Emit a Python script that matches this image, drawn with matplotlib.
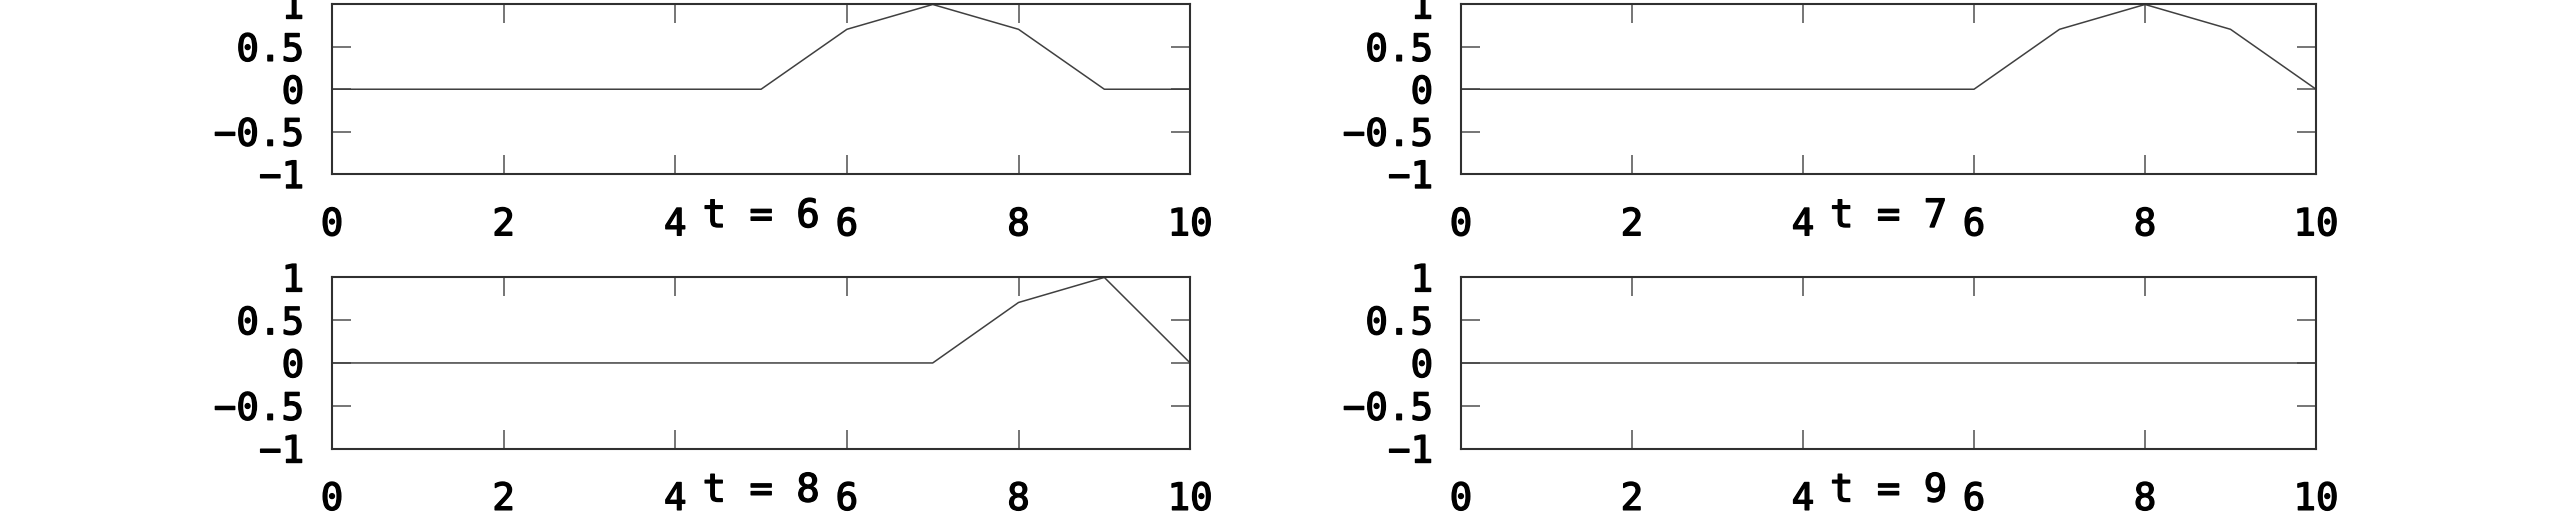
import numpy as np
import matplotlib
matplotlib.use('Agg')
import matplotlib.pyplot as plt
import matplotlib.patheffects as pe

# sample positions and the pulse at each time step
x = [0, 1, 2, 3, 4, 5, 6, 7, 8, 9, 10]
u_t6 = [0, 0, 0, 0, 0, 0, 0.707, 1, 0.707, 0, 0]
u_t7 = [0, 0, 0, 0, 0, 0, 0, 0.707, 1, 0.707, 0]
u_t8 = [0, 0, 0, 0, 0, 0, 0, 0, 0.707, 1, 0]
u_t9 = [0, 0, 0, 0, 0, 0, 0, 0, 0, 0, 0]
titles = ['t = 6', 't = 7', 't = 8', 't = 9']
xticks = [0, 2, 4, 6, 8, 10]
yticks = [-1, -0.5, 0, 0.5, 1]
ytick_labels = ['\u22121', '\u22120.5', '0', '0.5', '1']

plt.rcParams['font.family'] = ['DejaVu Sans Mono']

fig = plt.figure(figsize=(25.6, 5.2), dpi=100)

#axes boxes in figure fractions (left, bottom, width, height)
boxes = [
    [0.1297, 0.6654, 0.3352, 0.3260],
    [0.5707, 0.6654, 0.3340, 0.3260],
    [0.1297, 0.1375, 0.3352, 0.3290],
    [0.5707, 0.1375, 0.3340, 0.3290],
]
series = [u_t6, u_t7, u_t8, u_t9]
thicken = [pe.withStroke(linewidth=1.0, foreground='black')]

for box, u, title in zip(boxes, series, titles):
    ax = fig.add_axes(box)
    ax.plot(x, u, color='#404040', linewidth=1.1)
    ax.set_xlim(0, 10)
    ax.set_ylim(-1, 1)
    ax.set_xticks(xticks)
    ax.set_yticks(yticks)
    ax.set_yticklabels(ytick_labels)
    ax.tick_params(direction='in', length=13.7, width=1.1, color='#505050',
                   top=True, right=True, labelsize=27)
    ax.tick_params(axis='x', pad=24)
    ax.tick_params(axis='y', pad=20)
    for lab in ax.get_xticklabels() + ax.get_yticklabels():
        lab.set_path_effects(thicken)
    for sp in ax.spines.values():
        sp.set_color('#303030')
        sp.set_linewidth(1.5)
    ax.annotate(title, xy=(0.5, 0), xycoords='axes fraction',
                xytext=(0, -42), textcoords='offset pixels',
                ha='center', va='center', fontsize=28,
                path_effects=thicken)

fig.savefig('out.png', dpi=100)
